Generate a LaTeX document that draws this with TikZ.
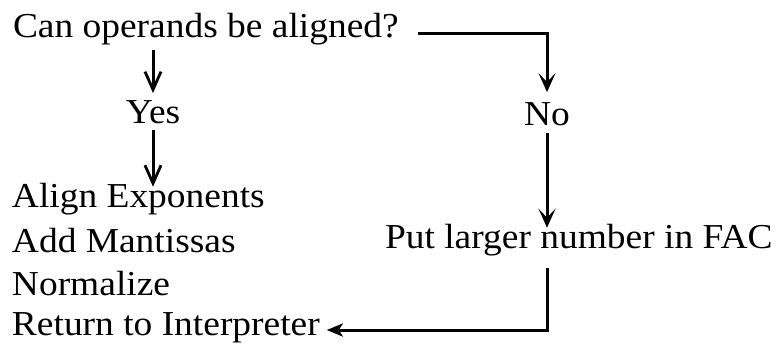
\documentclass[tikz,border=0pt]{standalone}
\usepackage{fontspec}
\setmainfont{Liberation Serif}[FakeStretch=1.07]
\usetikzlibrary{arrows.meta}
\begin{document}
\begin{tikzpicture}[x=1pt,y=-1pt,
  txt/.style={inner sep=0pt,outer sep=0pt,font=\fontsize{35pt}{42pt}\selectfont},
  conn/.style={line width=3pt},
  vbarb/.style={conn,-{Straight Barb[length=18pt,width=16pt,line width=2.8pt]}},
  bold/.style={conn,-{Stealth[length=19pt,width=17pt,inset=9pt]}},
  back/.style={conn,-{Stealth[length=16pt,width=13pt,inset=4pt]}}]
\useasboundingbox (0,0) rectangle (783,343);
\fill[white] (0,0) rectangle (783,343);

\node[txt,anchor=base west] (can) at (13,37) {Can operands be aligned?};
\node[txt,anchor=base] (yes) at (153,123) {Yes};
\node[txt,anchor=base] (no) at (547,125) {No};
\node[txt,anchor=base west] (align) at (12,207) {Align Exponents};
\node[txt,anchor=base west] (add) at (12,252) {Add Mantissas};
\node[txt,anchor=base west] (norm) at (12,295) {Normalize};
\node[txt,anchor=base west] (ret) at (12,335) {Return to Interpreter};
\node[txt,anchor=base west] (put) at (385,248) {Put larger number in FAC};

\draw[vbarb] ([yshift=-5.5pt]can.south -| yes.north) -- ([yshift=7pt]yes.north);
\draw[vbarb] ([yshift=-7pt]yes.south) -- ([yshift=-4pt]align.north -| yes.south);
\draw[bold] ([xshift=19pt,yshift=4pt]can.base east) -| ([yshift=10pt]no.north);
\draw[bold] ([yshift=-8pt]no.south) -- ([yshift=-4pt]put.north -| no.south);
\draw[back] ([yshift=-12pt]put.south -| no.south) |- ([xshift=7pt,yshift=5pt]ret.base east);
\end{tikzpicture}
\end{document}
